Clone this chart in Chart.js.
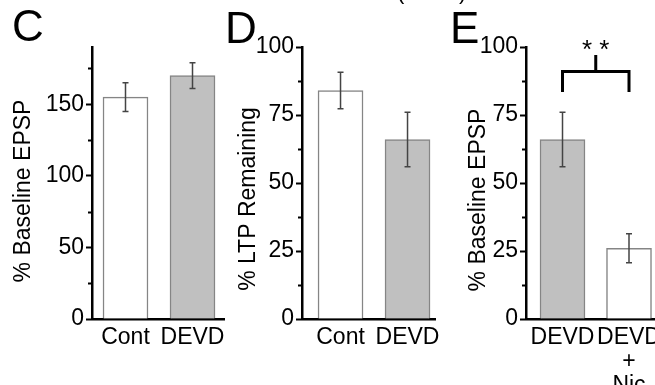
<!DOCTYPE html>
<html>
<head>
<meta charset="utf-8">
<script src="https://cdn.jsdelivr.net/npm/chart.js@4.4.1/dist/chart.umd.min.js"></script>
<style>
  body { margin: 0; background: #fff; }
  #wrap { position: relative; width: 655px; height: 385px; overflow: hidden; font-family: 'Liberation Sans', Arial, sans-serif; }
  canvas { position: absolute; top: 0; }
  .letter { position: absolute; font-size: 44px; line-height: 44px; color: #000; }
  .paren { position: absolute; font-size: 22px; line-height: 22px; top: -19px; color: #000; }
</style>
</head>
<body>
<div id="wrap">
  <canvas id="chartC" width="230" height="385" style="left:0px"></canvas>
  <canvas id="chartD" width="225" height="385" style="left:215px"></canvas>
  <canvas id="chartE" width="235" height="385" style="left:420px"></canvas>
  <div class="letter" style="left:12px;top:4px">C</div>
  <div class="letter" style="left:225px;top:6px">D</div>
  <div class="letter" style="left:450px;top:6px">E</div>
  <div class="paren" style="left:397px">(</div>
  <div class="paren" style="left:459px">)</div>
</div>
<script>
// panel C
var cLabels = ['Cont', 'DEVD'];
var cMeans = [155, 170];
var cSem = [10, 9];
var cTicks = [0, 50, 100, 150];
var cMinor = [25, 75, 125, 175];

// panel D
var dLabels = ['Cont', 'DEVD'];
var dMeans = [84, 66];
var dSem = [6.7, 10];
var dTicks = [0, 25, 50, 75, 100];
var dMinor = [12.5, 37.5, 62.5, 87.5];

// panel E
var eLabels = ['DEVD', ['DEVD', '+', 'Nic']];
var eMeans = [66, 26];
var eSem = [10, 5.3];
var eTicks = [0, 25, 50, 75, 100];
var eMinor = [12.5, 37.5, 62.5, 87.5];

var WHITE = '#ffffff', GRAY = '#c0c0c0';
var FONT = "'Liberation Sans', Arial, sans-serif";

Chart.defaults.font.family = FONT;
Chart.defaults.color = '#000';

// error bars, minor ticks, y title, significance bracket
const extras = {
    id: 'extras',
    afterDatasetsDraw(chart, args, o) {
        const ctx = chart.ctx;
        const ds = chart.data.datasets[0];
        const meta = chart.getDatasetMeta(0);
        const y = chart.scales.y;
        ctx.save();
        ctx.strokeStyle = '#444';
        ctx.lineWidth = 1.5;
        meta.data.forEach((bar, i) => {
            const v = ds.data[i].y, e = o.errors[i];
            const top = y.getPixelForValue(v + e), bot = y.getPixelForValue(v - e);
            ctx.beginPath();
            ctx.moveTo(bar.x, top); ctx.lineTo(bar.x, bot);
            ctx.moveTo(bar.x - 3, top); ctx.lineTo(bar.x + 3, top);
            ctx.moveTo(bar.x - 3, bot); ctx.lineTo(bar.x + 3, bot);
            ctx.stroke();
        });
        ctx.restore();
    },
    afterDraw(chart, args, o) {
        const ctx = chart.ctx;
        const x = chart.scales.x, y = chart.scales.y;
        const left = chart.chartArea.left;
        ctx.save();
        ctx.strokeStyle = '#000';
        ctx.lineWidth = 2;
        o.minor.forEach(v => {
            const py = Math.round(y.getPixelForValue(v)) + 0.5;
            ctx.beginPath();
            ctx.moveTo(left - 4, py); ctx.lineTo(left, py);
            ctx.stroke();
        });

        ctx.save();
        ctx.translate(o.titleX, o.titleY);
        ctx.rotate(-Math.PI / 2);
        ctx.fillStyle = '#000';
        ctx.font = '23px ' + FONT;
        ctx.textAlign = 'center';
        ctx.textBaseline = 'middle';
        ctx.fillText(o.title, 0, 0);
        ctx.restore();

        if (o.bracket) {
            const b = o.bracket;
            const x1 = x.getPixelForValue(b.from), x2 = x.getPixelForValue(b.to);
            const xm = (x1 + x2) / 2;
            const yl = y.getPixelForValue(b.level), ye = y.getPixelForValue(b.legEnd), yt = y.getPixelForValue(b.top);
            ctx.lineWidth = 3;
            ctx.lineCap = 'square';
            ctx.beginPath();
            ctx.moveTo(x1, ye); ctx.lineTo(x1, yl); ctx.lineTo(x2, yl); ctx.lineTo(x2, ye);
            ctx.moveTo(xm, yl); ctx.lineTo(xm, yt);
            ctx.stroke();
            ctx.fillStyle = '#000';
            ctx.font = '26px ' + FONT;
            ctx.textAlign = 'center';
            ctx.textBaseline = 'alphabetic';
            ctx.fillText(b.text, xm, yt + 1);
        }
        ctx.restore();
    }
};

function makePanel(id, p) {
    let ctx = document.getElementById(id).getContext('2d');
    return new Chart(ctx, {
        type: 'bar',
        data: {
            datasets: [{
                data: p.means.map((v, i) => ({ x: i, y: v })),
                backgroundColor: p.colors,
                borderColor: '#858585',
                borderWidth: 1.5,
                barThickness: 45
            }]
        },
        plugins: [extras],
        options: {
            responsive: false,
            animation: false,
            devicePixelRatio: 1,
            layout: { padding: { top: 47, right: p.padRight, bottom: 0, left: 0 } },
            plugins: {
                legend: { display: false },
                tooltip: { enabled: false },
                extras: { errors: p.sem, minor: p.minor, bracket: p.bracket, title: p.title, titleX: p.titleX, titleY: p.titleY }
            },
            scales: {
                x: {
                    type: 'linear',
                    offset: false,
                    min: p.xMin, max: p.xMax,
                    afterFit: s => { s.height = 66; s.paddingLeft = 0; s.paddingRight = 0; },
                    afterBuildTicks: s => { s.ticks = p.labels.map((l, i) => ({ value: i })); },
                    border: { color: '#000', width: 2.5 },
                    grid: { offset: false, drawOnChartArea: false, drawTicks: false },
                    ticks: {
                        autoSkip: false, maxRotation: 0, padding: 7,
                        font: { size: 23, lineHeight: 1.03 },
                        callback: v => p.labels[v]
                    }
                },
                y: {
                    min: 0, max: p.yMax,
                    afterFit: s => { s.width = p.yWidth; },
                    afterBuildTicks: s => { s.ticks = p.ticks.map(v => ({ value: v })); },
                    border: { color: '#000', width: 2.5 },
                    grid: { drawOnChartArea: false, tickLength: 6, tickWidth: 2, tickColor: '#000' },
                    ticks: { autoSkip: false, padding: 2, font: { size: 23 } }
                }
            }
        }
    });
}

let chartC = makePanel('chartC', {
    labels: cLabels, means: cMeans, sem: cSem, ticks: cTicks, minor: cMinor,
    colors: [WHITE, GRAY], yMax: 190, yWidth: 92,
    xMin: -0.5, xMax: 1.47, padRight: 6,
    title: '% Baseline EPSP', titleX: 24, titleY: 191
});

let chartD = makePanel('chartD', {
    labels: dLabels, means: dMeans, sem: dSem, ticks: dTicks, minor: dMinor,
    colors: [WHITE, GRAY], yMax: 100, yWidth: 87,
    xMin: -0.575, xMax: 1.41, padRight: 5,
    title: '% LTP Remaining', titleX: 34, titleY: 199
});

let chartE = makePanel('chartE', {
    labels: eLabels, means: eMeans, sem: eSem, ticks: eTicks, minor: eMinor,
    colors: [GRAY, WHITE], yMax: 100, yWidth: 106,
    xMin: -0.549, xMax: 1.391, padRight: 0,
    title: '% Baseline EPSP', titleX: 59, titleY: 200,
    bracket: { from: 0, to: 1, level: 91, legEnd: 84, top: 96.5, text: '* *' }
});
</script>
</body>
</html>
